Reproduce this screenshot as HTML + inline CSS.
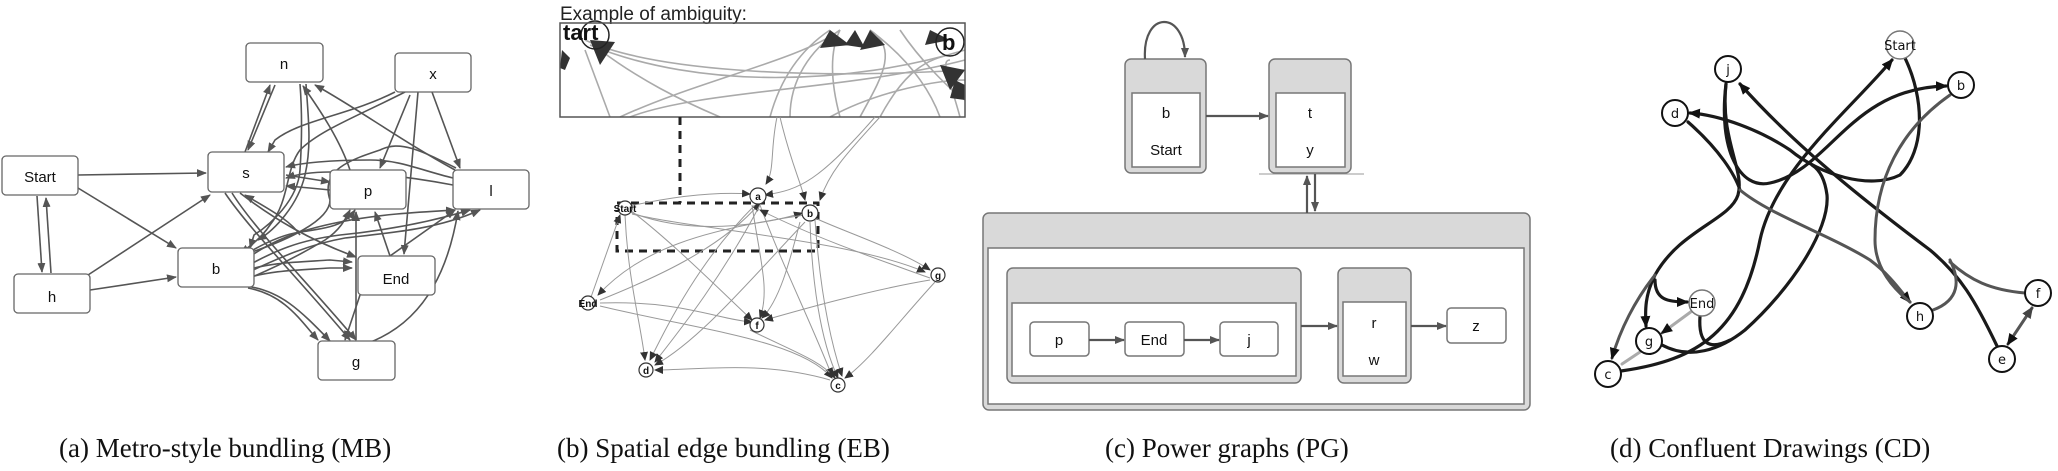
<!DOCTYPE html>
<html><head><meta charset="utf-8"><style>
html,body{margin:0;padding:0;background:#fff}
svg{display:block}
.cap{font-family:"Liberation Serif",serif;font-size:27px;fill:#111}
.ns{font-family:"Liberation Sans",sans-serif;font-size:15px;fill:#111;text-anchor:middle}
</style></head><body>
<svg width="2058" height="471" viewBox="0 0 2058 471" xmlns="http://www.w3.org/2000/svg">
<defs>
<marker id="ma" markerWidth="10" markerHeight="8" refX="9" refY="4" orient="auto" markerUnits="userSpaceOnUse"><path d="M0,0 L10,4 L0,8 z" fill="#555"/></marker>
<marker id="mb" markerWidth="9" markerHeight="8" refX="8" refY="4" orient="auto" markerUnits="userSpaceOnUse"><path d="M0,0 L9,4 L0,8 z" fill="#333"/></marker>
<marker id="md" markerWidth="12" markerHeight="10" refX="10" refY="5" orient="auto" markerUnits="userSpaceOnUse"><path d="M0,0 L12,5 L0,10 z" fill="#111"/></marker>
<marker id="md2" markerWidth="12" markerHeight="10" refX="2" refY="5" orient="auto" markerUnits="userSpaceOnUse"><path d="M12,0 L0,5 L12,10 z" fill="#444"/></marker>
</defs>

<!-- ===== Panel a ===== -->
<g stroke="#555" stroke-width="1.6" fill="none" marker-end="url(#ma)">
<path d="M78,175 L206,173"/>
<path d="M78,188 L176,248"/>
<path d="M37,196 L42,272"/>
<path d="M51,273 L46,198"/>
<path d="M88,275 L210,195"/>
<path d="M90,290 L176,277"/>
<path d="M245,152 L270,85"/>
<path d="M275,85 L248,150"/>
<path d="M300,84 C302,110 302,140 300,170 C298,200 270,225 254,235 L250,248" />
<path d="M306,84 C308,115 312,145 305,175 C298,205 275,230 258,240"/>
<path d="M350,170 C340,140 320,110 303,86"/>
<path d="M455,170 C400,140 360,110 315,85"/>
<path d="M395,92 C350,115 300,120 275,140 L268,152"/>
<path d="M405,92 C360,115 320,130 300,150 C285,170 290,200 270,225 C260,240 245,250 240,253"/>
<path d="M410,95 L380,168"/>
<path d="M418,92 L404,254"/>
<path d="M432,92 L460,168"/>
<path d="M453,178 C420,170 400,160 370,160 C330,160 300,163 286,167"/>
<path d="M453,185 C400,175 360,172 330,172 C310,172 295,175 286,178"/>
<path d="M330,190 C310,188 300,187 286,186"/>
<path d="M286,175 C305,178 318,180 330,182"/>
<path d="M456,168 C420,150 400,140 380,150 C350,160 320,170 330,200 C330,220 290,240 240,256"/>
<path d="M240,264 C270,240 300,230 340,222 C380,214 420,212 455,210"/>
<path d="M240,270 C275,250 300,240 340,235 C390,230 430,222 470,210"/>
<path d="M240,276 C275,260 305,245 345,238 C400,232 440,228 480,210"/>
<path d="M240,282 C270,270 300,255 325,240 C340,230 345,220 350,210"/>
<path d="M240,258 C260,245 280,235 300,232 C330,228 345,225 355,210"/>
<path d="M240,272 C270,262 300,262 330,260 L352,262"/>
<path d="M240,280 C270,270 300,270 330,268 L352,268"/>
<path d="M245,286 C280,290 300,310 330,341"/>
<path d="M248,288 C285,295 300,320 318,340"/>
<path d="M225,193 C250,230 300,280 350,340"/>
<path d="M232,193 C255,230 310,285 356,340"/>
<path d="M300,235 C290,220 270,210 245,195"/>
<path d="M240,193 C275,220 310,240 356,257"/>
<path d="M360,295 L345,340"/>
<path d="M390,256 L455,210"/>
<path d="M368,343 C430,320 450,260 458,211"/>
<path d="M356,340 L356,212"/>
<path d="M390,256 L375,212"/>
</g>
<g fill="#fff" stroke="#666" stroke-width="1.3">
<rect x="246" y="43" width="77" height="39" rx="4"/>
<rect x="395" y="53" width="76" height="39" rx="4"/>
<rect x="2" y="156" width="76" height="39" rx="4"/>
<rect x="208" y="152" width="76" height="40" rx="4"/>
<rect x="330" y="170" width="76" height="39" rx="4"/>
<rect x="453" y="170" width="76" height="39" rx="4"/>
<rect x="178" y="248" width="76" height="39" rx="4"/>
<rect x="14" y="274" width="76" height="39" rx="4"/>
<rect x="358" y="256" width="77" height="39" rx="4"/>
<rect x="318" y="341" width="77" height="39" rx="4"/>
</g>
<g class="ns">
<text x="284" y="69">n</text><text x="433" y="79">x</text><text x="40" y="182">Start</text>
<text x="246" y="178">s</text><text x="368" y="196">p</text><text x="491" y="196">l</text>
<text x="216" y="274">b</text><text x="52" y="302">h</text><text x="396" y="284">End</text><text x="356" y="367">g</text>
</g>
<text class="cap" x="59" y="457">(a)  Metro-style bundling (MB)</text>

<!-- ===== Panel b ===== -->
<text x="560" y="20" font-family="Liberation Sans,sans-serif" font-size="19" fill="#222">Example of ambiguity:</text>
<g stroke="#aaa" stroke-width="1.6" fill="none">
<path d="M585,40 C650,70 800,80 965,70"/>
<path d="M590,45 C700,90 850,85 965,50"/>
<path d="M620,117 C700,80 800,60 840,30"/>
<path d="M630,117 C700,90 850,90 965,60"/>
<path d="M600,50 C640,80 680,100 720,117"/>
<path d="M585,50 L610,117"/>
<path d="M770,117 C780,80 800,50 830,30"/>
<path d="M790,117 C790,80 810,50 840,30"/>
<path d="M840,117 C830,80 830,50 840,30"/>
<path d="M860,117 C880,80 900,50 870,30"/>
<path d="M880,117 C900,80 920,60 950,55"/>
<path d="M940,117 C930,90 910,60 870,30"/>
<path d="M960,117 C950,80 940,60 950,60"/>
<path d="M830,117 C880,90 940,80 965,80"/>
<path d="M900,30 C920,60 950,90 965,100"/>
</g>
<g fill="#333">
<path d="M830,30 L850,45 L820,48 z"/><path d="M855,30 L865,48 L845,45 z"/><path d="M870,30 L885,45 L860,50 z"/>
<path d="M930,30 L950,40 L925,45 z"/><path d="M940,65 L965,70 L950,90 z"/><path d="M955,80 L965,85 L965,100 L950,98 z"/>
<path d="M590,40 L615,42 L600,65 z"/><path d="M562,50 L570,58 L565,70 L560,68 z"/>
</g>
<circle cx="595" cy="35" r="14" fill="none" stroke="#222" stroke-width="1.5"/>
<circle cx="950" cy="42" r="14" fill="none" stroke="#222" stroke-width="1.5"/>
<text x="563" y="40" font-family="Liberation Sans,sans-serif" font-weight="bold" font-size="22" fill="#111">tart</text>
<text x="942" y="50" font-family="Liberation Sans,sans-serif" font-weight="bold" font-size="22" fill="#111">b</text>
<rect x="560" y="23" width="405" height="94" fill="none" stroke="#555" stroke-width="1.5"/>
<path d="M680,117 L680,203 M617,203 L818,203 L818,251 L617,251 L617,210" fill="none" stroke="#222" stroke-width="3" stroke-dasharray="8,6"/>
<g stroke="#999" stroke-width="1" fill="none" marker-end="url(#mb)">
<path d="M777,117 C770,150 775,170 766,184"/>
<path d="M780,117 C790,160 800,180 805,200"/>
<path d="M880,117 C850,150 830,170 820,200"/>
<path d="M875,117 C820,180 800,190 765,195"/>
<path d="M630,206 C680,195 720,192 750,194"/>
<path d="M630,212 C700,240 780,220 802,213"/>
<path d="M632,214 C700,230 850,240 925,272"/>
<path d="M630,210 C670,240 720,290 752,320"/>
<path d="M625,215 C628,280 640,320 645,360"/>
<path d="M590,300 L620,215"/>
<path d="M600,300 C650,280 720,250 760,203"/>
<path d="M600,303 C680,300 720,320 752,322"/>
<path d="M600,306 C700,330 800,340 832,378"/>
<path d="M805,215 C700,230 640,250 598,295"/>
<path d="M815,218 C840,230 900,250 930,270"/>
<path d="M930,280 C870,290 800,310 765,320"/>
<path d="M935,282 C900,320 870,360 845,378"/>
<path d="M830,380 C760,360 700,370 655,370"/>
<path d="M755,205 C700,260 670,320 650,360"/>
<path d="M760,205 C720,280 680,330 655,362"/>
<path d="M805,222 C750,280 700,340 655,365"/>
<path d="M800,222 C790,260 780,300 762,318"/>
<path d="M810,222 C812,280 820,340 838,378"/>
<path d="M815,220 C820,290 830,340 842,376"/>
<path d="M760,205 C780,260 810,320 832,376"/>
<path d="M752,205 C760,260 770,290 760,318"/>
<path d="M930,278 C880,260 820,240 760,210"/>
<path d="M750,330 C790,350 820,360 835,378"/>
</g>
<g fill="#fff" stroke="#333" stroke-width="1.2">
<circle cx="758" cy="196" r="8"/><circle cx="810" cy="213" r="8"/><circle cx="625" cy="208" r="7"/>
<circle cx="588" cy="303" r="7"/><circle cx="938" cy="275" r="7"/><circle cx="757" cy="325" r="7"/>
<circle cx="646" cy="370" r="7"/><circle cx="838" cy="385" r="7"/>
</g>
<g font-family="Liberation Sans,sans-serif" font-weight="bold" font-size="10" fill="#111" text-anchor="middle">
<text x="758" y="200">a</text><text x="810" y="217">b</text><text x="625" y="212">Start</text><text x="588" y="307">End</text>
<text x="938" y="279">g</text><text x="757" y="329">f</text><text x="646" y="374">d</text><text x="838" y="389">c</text>
</g>
<text class="cap" x="557" y="457">(b)  Spatial edge bundling (EB)</text>

<!-- ===== Panel c ===== -->
<line x1="1259" y1="174" x2="1364" y2="174" stroke="#999" stroke-width="1"/>
<g stroke="#777" stroke-width="1.5">
<rect x="1125" y="59" width="81" height="114" rx="6" fill="#d9d9d9"/>
<rect x="1132" y="93" width="68" height="74" fill="#fff"/>
<rect x="1269" y="59" width="82" height="114" rx="6" fill="#d9d9d9"/>
<rect x="1276" y="93" width="69" height="74" fill="#fff"/>
<rect x="983" y="213" width="547" height="197" rx="6" fill="#d9d9d9"/>
<rect x="988" y="248" width="536" height="156" fill="#fff"/>
<rect x="1007" y="268" width="294" height="115" rx="6" fill="#d9d9d9"/>
<rect x="1012" y="303" width="284" height="73" fill="#fff"/>
<rect x="1338" y="268" width="73" height="115" rx="6" fill="#d9d9d9"/>
<rect x="1343" y="302" width="63" height="74" fill="#fff"/>
<rect x="1030" y="322" width="59" height="34" rx="4" fill="#fff"/>
<rect x="1125" y="322" width="59" height="34" rx="4" fill="#fff"/>
<rect x="1220" y="322" width="58" height="34" rx="4" fill="#fff"/>
<rect x="1447" y="308" width="59" height="35" rx="4" fill="#fff"/>
</g>
<g stroke="#555" stroke-width="2.2" fill="none" marker-end="url(#ma)">
<path d="M1145,59 C1142,10 1185,10 1185,57"/>
<path d="M1206,116 L1268,116"/>
<path d="M1307,213 L1307,176"/>
<path d="M1315,174 L1315,211"/>
<path d="M1301,326 L1337,326"/>
<path d="M1411,326 L1446,326"/>
<path d="M1089,340 L1124,340"/>
<path d="M1184,340 L1219,340"/>
</g>
<g class="ns" font-size="15">
<text x="1166" y="118">b</text><text x="1166" y="155">Start</text>
<text x="1310" y="118">t</text><text x="1310" y="155">y</text>
<text x="1059" y="345">p</text><text x="1154" y="345">End</text><text x="1249" y="345">j</text>
<text x="1374" y="328">r</text><text x="1374" y="365">w</text><text x="1476" y="331">z</text>
</g>
<text class="cap" x="1105" y="457">(c)  Power graphs (PG)</text>

<!-- ===== Panel d ===== -->
<g fill="none" stroke-linecap="round">
<g stroke="#1a1a1a" stroke-width="3.2">
<path d="M1621,371 C1700,360 1742,330 1760,240 C1775,170 1850,110 1892,60" marker-end="url(#md)"/>
<path d="M1726,84 C1718,150 1740,190 1770,183 C1830,170 1850,88 1946,86" marker-end="url(#md)"/>
<path d="M1726,84 C1720,140 1745,170 1738,195 C1730,220 1680,230 1655,275"/>
<path d="M1905,58 C1925,100 1925,150 1900,175 C1870,190 1820,175 1790,150 C1760,130 1720,115 1690,113" marker-end="url(#md)"/>
<path d="M1997,346 C1975,300 1960,275 1930,250 C1850,190 1790,140 1740,84" marker-end="url(#md)"/>
<path d="M1662,345 C1690,360 1720,350 1745,330 C1790,290 1830,230 1827,195 C1825,180 1820,170 1812,165"/>
<path d="M1700,316 C1698,345 1710,350 1730,340"/>
<path d="M1688,122 C1720,150 1735,175 1740,190"/>
<path d="M1655,275 C1645,295 1645,310 1646,326" marker-end="url(#md)"/>
<path d="M1655,280 C1655,300 1668,302 1687,302" marker-end="url(#md)"/>
</g>
<g stroke="#555" stroke-width="3">
<path d="M1655,275 C1635,300 1620,330 1612,358" marker-end="url(#md)"/>
<path d="M1740,190 C1770,215 1830,235 1870,260 C1890,275 1900,290 1910,302" marker-end="url(#md)"/>
<path d="M1950,95 C1900,130 1875,180 1875,240 C1875,270 1895,290 1910,302"/>
<path d="M1933,310 C1960,300 1960,280 1950,260"/>
<path d="M2025,293 C1990,290 1970,280 1950,262"/>
<path d="M2032,308 L2008,344" marker-start="url(#md2)" marker-end="url(#md)"/>
</g>
<g stroke="#aaa" stroke-width="3">
<path d="M1692,311 L1662,333" marker-end="url(#md)"/>
<path d="M1640,352 L1622,364"/>
</g>
</g>
<g fill="#fff" stroke="#111" stroke-width="2">
<circle cx="1728" cy="69" r="13"/><circle cx="1961" cy="85" r="13"/><circle cx="1675" cy="113" r="13"/>
<circle cx="1649" cy="341" r="13"/><circle cx="1608" cy="374" r="13"/><circle cx="1920" cy="316" r="13"/>
<circle cx="2038" cy="293" r="13"/><circle cx="2002" cy="359" r="13"/>
</g>
<g fill="#fff" stroke="#777" stroke-width="1.5">
<circle cx="1900" cy="45" r="14"/><circle cx="1702" cy="303" r="13"/>
</g>
<g font-family="DejaVu Sans,sans-serif" font-size="13" fill="#111" text-anchor="middle">
<text x="1728" y="74">j</text><text x="1961" y="90">b</text><text x="1675" y="118">d</text>
<text x="1649" y="346">g</text><text x="1608" y="379">c</text><text x="1920" y="321">h</text>
<text x="2038" y="298">f</text><text x="2002" y="364">e</text>
<text x="1900" y="50">Start</text><text x="1702" y="308">End</text>
</g>
<text class="cap" x="1610" y="457">(d)  Confluent Drawings (CD)</text>
</svg>
</body></html>
